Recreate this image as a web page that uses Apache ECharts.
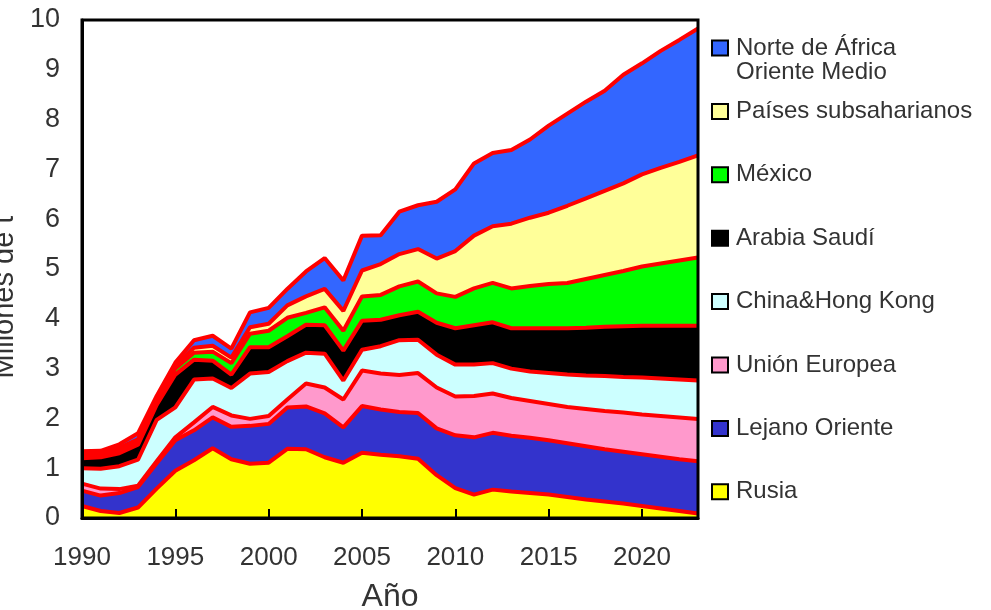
<!DOCTYPE html>
<html>
<head>
<meta charset="utf-8">
<script src="https://cdn.jsdelivr.net/npm/echarts@6/dist/echarts.min.js"></script>
<style>
html,body{margin:0;padding:0;background:#fff;}
#chart{width:991px;height:610px;}
</style>
</head>
<body>
<div id="chart"></div>
<script>
const years = ['1990','1991','1992','1993','1994','1995','1996','1997','1998','1999','2000','2001','2002','2003','2004','2005','2006','2007','2008','2009','2010','2011','2012','2013','2014','2015','2016','2017','2018','2019','2020','2021','2022','2023'];
const yTicks = [0,1,2,3,4,5,6,7,8,9,10];

const rusia        = [0.24,0.14,0.10,0.21,0.59,0.95,1.16,1.40,1.18,1.09,1.11,1.39,1.38,1.22,1.11,1.31,1.27,1.24,1.19,0.86,0.60,0.47,0.57,0.53,0.50,0.47,0.42,0.37,0.33,0.29,0.24,0.19,0.14,0.09];
const lejano       = [0.31,0.31,0.40,0.41,0.51,0.61,0.60,0.62,0.65,0.76,0.78,0.83,0.86,0.88,0.71,0.94,0.91,0.89,0.92,0.94,1.06,1.15,1.14,1.12,1.11,1.09,1.08,1.07,1.05,1.04,1.04,1.04,1.04,1.05];
const unionEuropea = [0.14,0.14,0.08,0.03,0.04,0.06,0.16,0.21,0.23,0.14,0.16,0.16,0.46,0.52,0.56,0.71,0.72,0.74,0.80,0.82,0.78,0.83,0.79,0.76,0.74,0.73,0.73,0.75,0.77,0.79,0.80,0.82,0.84,0.85];
const china        = [0.31,0.40,0.46,0.52,0.83,0.60,0.86,0.57,0.55,0.91,0.88,0.77,0.62,0.68,0.38,0.42,0.55,0.70,0.67,0.66,0.64,0.63,0.61,0.59,0.59,0.62,0.65,0.67,0.70,0.71,0.74,0.75,0.76,0.77];
const arabia       = [0.20,0.23,0.26,0.30,0.30,0.66,0.40,0.36,0.27,0.53,0.50,0.50,0.56,0.57,0.60,0.58,0.53,0.50,0.56,0.64,0.73,0.79,0.82,0.81,0.87,0.90,0.93,0.96,0.99,1.02,1.04,1.06,1.08,1.10];
const mexico       = [0.07,0.06,0.07,0.07,0.10,0.12,0.14,0.18,0.23,0.27,0.33,0.37,0.24,0.36,0.40,0.49,0.50,0.58,0.61,0.59,0.63,0.74,0.79,0.80,0.85,0.89,0.91,0.98,1.04,1.11,1.19,1.25,1.31,1.37];
const subsaharianos= [0.04,0.04,0.04,0.04,0.04,0.06,0.10,0.12,0.11,0.13,0.14,0.25,0.33,0.37,0.40,0.52,0.62,0.65,0.65,0.70,0.92,1.06,1.14,1.30,1.37,1.43,1.55,1.62,1.69,1.76,1.85,1.92,1.98,2.05];
const norteAfrica  = [0.03,0.03,0.07,0.12,0.04,0.06,0.15,0.20,0.18,0.30,0.32,0.33,0.50,0.62,0.61,0.70,0.58,0.85,0.88,1.14,1.24,1.45,1.47,1.48,1.57,1.75,1.85,1.94,2.01,2.18,2.23,2.35,2.45,2.55];

const seriesDefs = [
  {name: 'Rusia', data: rusia, color: '#ffff00'},
  {name: 'Lejano Oriente', data: lejano, color: '#3333cc'},
  {name: 'Unión Europea', data: unionEuropea, color: '#ff99cc'},
  {name: 'China&Hong Kong', data: china, color: '#ccffff'},
  {name: 'Arabia Saudí', data: arabia, color: '#000000'},
  {name: 'México', data: mexico, color: '#00ff00'},
  {name: 'Países subsaharianos', data: subsaharianos, color: '#ffff99'},
  {name: 'Norte de África\nOriente Medio', data: norteAfrica, color: '#3366ff'}
];

const narrow = "'Liberation Sans Narrow','Arial Narrow','Liberation Sans',Arial,sans-serif";
const sans = "'Liberation Sans',Arial,Helvetica,sans-serif";

const chart = echarts.init(document.getElementById('chart'));

const areaSeries = seriesDefs.map((d) => ({
  name: d.name,
  type: 'line',
  stack: 'areas',
  data: d.data,
  symbol: 'none',
  itemStyle: {color: d.color},
  lineStyle: {width: 4, color: '#ff0000'},
  areaStyle: {color: d.color, opacity: 1}
}));

chart.setOption({
  animation: false,
  grid: {left: 82, top: 20, width: 616, height: 498, show: true, borderColor: '#000', borderWidth: 3, z: 20, containLabel: false, outerBoundsMode: 'none'},
  legend: {
    orient: 'vertical',
    left: 711,
    top: 36,
    padding: 0,
    icon: 'rect',
    itemWidth: 16,
    itemHeight: 15,
    itemGap: 39.4,
    itemStyle: {borderColor: '#000', borderWidth: 2},
    selectedMode: false,
    data: seriesDefs.map(d => d.name).reverse(),
    formatter: name => name.split('\n')[0],
    textStyle: {fontFamily: sans, fontSize: 24, color: '#333', lineHeight: 24, padding: [0, 0, 0, 3]}
  },
  graphic: [{
    type: 'text',
    left: 736,
    top: 60,
    z: 30,
    style: {text: seriesDefs[7].name.split('\n')[1], fontFamily: sans, fontSize: 24, fill: '#333'}
  }],
  xAxis: {
    type: 'category',
    data: years,
    boundaryGap: false,
    z: 21,
    name: 'Año',
    nameLocation: 'middle',
    nameGap: 63,
    nameTextStyle: {fontFamily: sans, fontSize: 32, color: '#333'},
    axisLine: {lineStyle: {color: '#000', width: 3}},
    axisTick: {inside: true, interval: 4, length: 9, lineStyle: {color: '#000', width: 2}},
    axisLabel: {interval: 4, margin: 27, fontFamily: narrow, fontSize: 26, color: '#333'},
    splitLine: {show: false}
  },
  yAxis: {
    type: 'value',
    min: yTicks[0],
    max: yTicks[yTicks.length - 1],
    interval: 1,
    z: 21,
    name: 'Millones de t',
    nameLocation: 'middle',
    nameGap: 44,
    nameTextStyle: {fontFamily: sans, fontSize: 29, color: '#333', padding: [0, 56, 0, 0]},
    axisLine: {show: true, lineStyle: {color: '#000', width: 3}},
    axisTick: {inside: true, length: 7, lineStyle: {color: '#000', width: 2}},
    axisLabel: {margin: 22, fontFamily: narrow, fontSize: 27, color: '#333'},
    splitLine: {show: false}
  },
  series: areaSeries
});
</script>
</body>
</html>
